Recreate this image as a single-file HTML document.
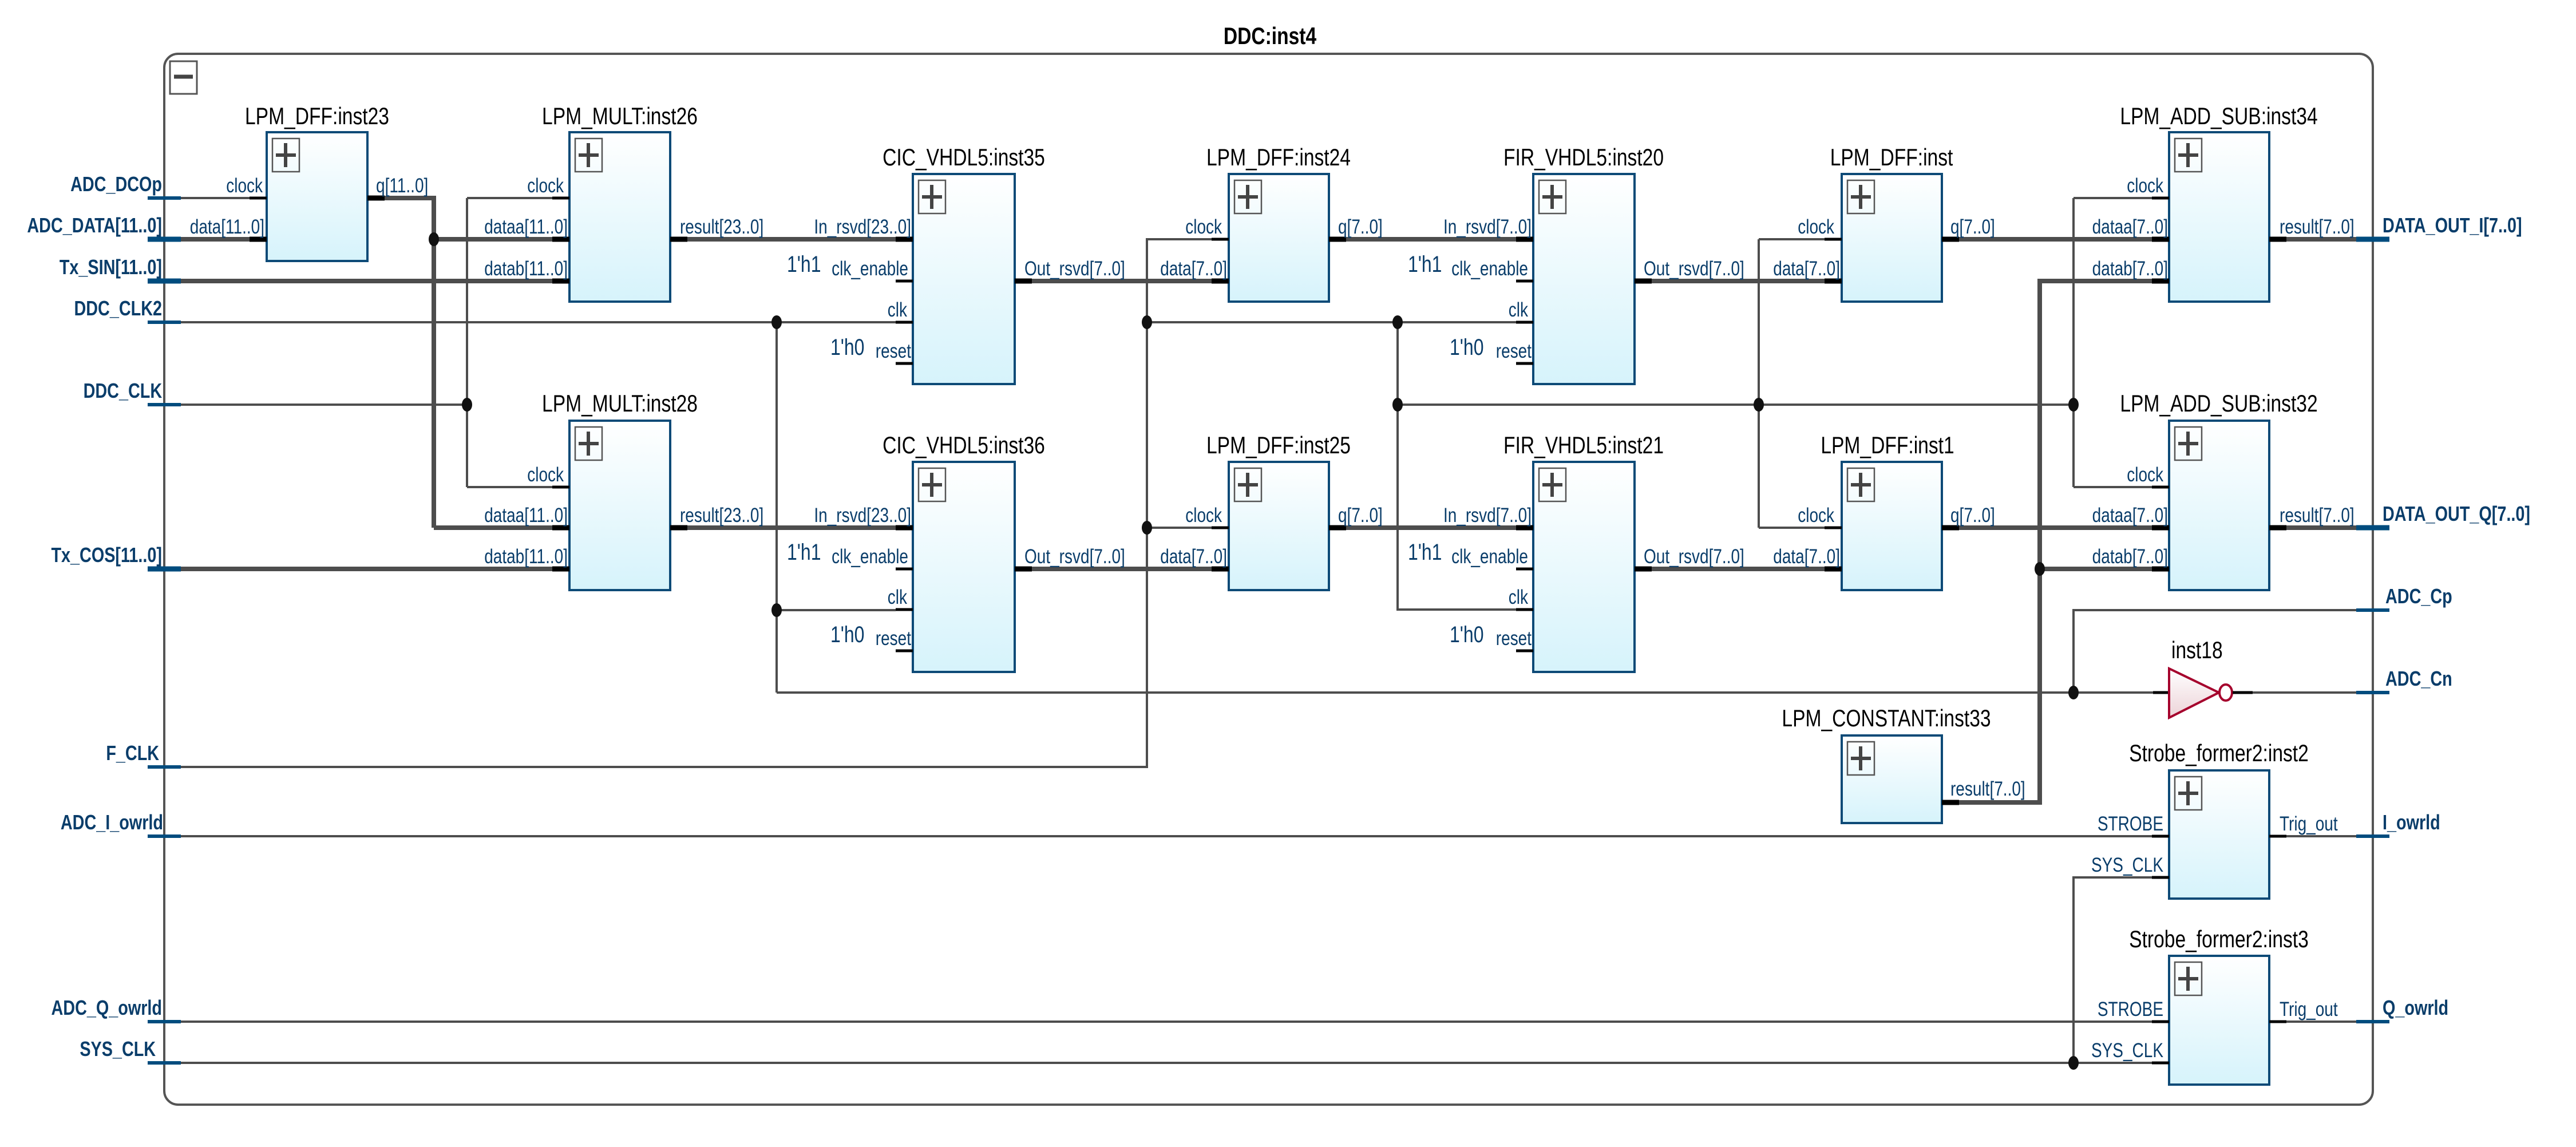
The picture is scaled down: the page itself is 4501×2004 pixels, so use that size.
<!DOCTYPE html>
<html><head><meta charset="utf-8"><style>
html,body{margin:0;padding:0;background:#fff}
svg{display:block}
text{font-family:"Liberation Sans",sans-serif;transform-box:fill-box}
.t{font-size:42px;fill:#000;text-anchor:middle;transform-origin:center;transform:scaleX(.8)}
.p{font-size:35px;fill:#0a3d6a;transform-origin:left;transform:scaleX(.8)}
.pe{font-size:35px;fill:#0a3d6a;text-anchor:end;transform-origin:right;transform:scaleX(.8)}
.c{font-size:40px;fill:#0a3d6a;transform-origin:left;transform:scaleX(.8)}
.L{font-size:36px;fill:#0a3d6a;font-weight:bold;text-anchor:end;transform-origin:right;transform:scaleX(.8)}
.R{font-size:36px;fill:#0a3d6a;font-weight:bold;transform-origin:left;transform:scaleX(.8)}
.w{stroke:#4d4d4d;stroke-width:4;fill:none}
.b{stroke:#4d4d4d;stroke-width:8;fill:none}
.k{stroke:#000;stroke-width:5}
.kb{stroke:#000;stroke-width:9}
.u{stroke:#004c7e;stroke-width:6}
.ub{stroke:#004c7e;stroke-width:9}
.box{fill:url(#g);stroke:#0d4a77;stroke-width:4}
.pl{fill:none;stroke:#555;stroke-width:2.5}
.px{stroke:#444;stroke-width:6}
</style></head><body>
<svg width="4501" height="2004" viewBox="0 0 4501 2004" xmlns="http://www.w3.org/2000/svg">
<defs><linearGradient id="g" x1="0" y1="0" x2="0" y2="1"><stop offset="0" stop-color="#ffffff"/><stop offset="1" stop-color="#d6f3fb"/></linearGradient>
<linearGradient id="gi" x1="0" y1="0" x2="0" y2="1"><stop offset="0" stop-color="#ffffff"/><stop offset="1" stop-color="#ecd3d8"/></linearGradient></defs>

<text x="2219" y="77" style="font-size:42px;font-weight:bold;text-anchor:middle;fill:#000;transform-origin:center;transform:scaleX(.8)">DDC:inst4</text>
<rect x="287" y="94" width="3859" height="1836" rx="24" fill="none" stroke="#555" stroke-width="4"/>
<rect x="297" y="107" width="47" height="57" fill="none" stroke="#555" stroke-width="3"/>
<line x1="304" y1="134" x2="337" y2="134" stroke="#444" stroke-width="7"/>

<g class="w">
<path d="M316 346H466"/>
<path d="M316 563H1565"/>
<path d="M316 707H816"/>
<path d="M816 346V851M816 346H965M816 851H965"/>
<path d="M1357 563V1210M1357 1066H1565M1357 1210H3762"/>
<path d="M316 1340H2004V418H2117M2004 563H2649M2004 922H2117"/>
<path d="M2442 563V1065H2649M2442 707H3623"/>
<path d="M3073 418V922M3073 418H3188M3073 922H3188"/>
<path d="M3623 346V851M3623 346H3760M3623 851H3760"/>
<path d="M4117 1066H3623V1210"/>
<path d="M3936 1210H4117"/>
<path d="M316 1461H3760"/>
<path d="M316 1785H3760"/>
<path d="M316 1857H3760M3623 1857V1533H3760"/>
<path d="M3995 1461H4117M3995 1785H4117"/>
</g>
<g class="b">
<path d="M316 418H436"/>
<path d="M672 346H758V922M758 418H965M758 922H965"/>
<path d="M316 491H965"/>
<path d="M316 994H965"/>
<path d="M1201 418H1565M1201 922H1565"/>
<path d="M1803 491H2117M1803 994H2117"/>
<path d="M2352 418H2649M2352 922H2649"/>
<path d="M2886 491H3188M2886 994H3188"/>
<path d="M3423 418H3760M3423 922H3760"/>
<path d="M3995 418H4117M3995 922H4117"/>
<path d="M3423 1402H3564V491H3760M3564 994H3760"/>
</g>
<g class="u"><path d="M258 346H316M258 563H316M258 707H316M258 1340H316M258 1461H316M258 1785H316M258 1857H316"/>
<path d="M4117 1066H4175M4117 1210H4175M4117 1461H4175M4117 1785H4175"/></g>
<g class="ub"><path d="M258 418H316M258 491H316M258 994H316M4117 418H4175M4117 922H4175"/></g>

<g fill="#111">
<ellipse cx="758" cy="418" rx="9" ry="12"/><ellipse cx="816" cy="707" rx="9" ry="12"/>
<ellipse cx="1357" cy="563" rx="9" ry="12"/><ellipse cx="1357" cy="1066" rx="9" ry="12"/>
<ellipse cx="2004" cy="563" rx="9" ry="12"/><ellipse cx="2004" cy="922" rx="9" ry="12"/>
<ellipse cx="2442" cy="563" rx="9" ry="12"/><ellipse cx="2442" cy="707" rx="9" ry="12"/>
<ellipse cx="3073" cy="707" rx="9" ry="12"/><ellipse cx="3623" cy="707" rx="9" ry="12"/>
<ellipse cx="3564" cy="994" rx="9" ry="12"/><ellipse cx="3623" cy="1210" rx="9" ry="12"/>
<ellipse cx="3623" cy="1857" rx="9" ry="12"/>
</g>

<text class="L" x="283" y="334">ADC_DCOp</text>
<text class="L" x="283" y="406">ADC_DATA[11..0]</text>
<text class="L" x="283" y="479">Tx_SIN[11..0]</text>
<text class="L" x="283" y="551">DDC_CLK2</text>
<text class="L" x="283" y="695">DDC_CLK</text>
<text class="L" x="283" y="982">Tx_COS[11..0]</text>
<text class="L" x="278" y="1328">F_CLK</text>
<text class="L" x="285" y="1449">ADC_I_owrld</text>
<text class="L" x="283" y="1773">ADC_Q_owrld</text>
<text class="L" x="272" y="1845">SYS_CLK</text>
<text class="R" x="4163" y="406">DATA_OUT_I[7..0]</text>
<text class="R" x="4163" y="910">DATA_OUT_Q[7..0]</text>
<text class="R" x="4168" y="1054">ADC_Cp</text>
<text class="R" x="4168" y="1198">ADC_Cn</text>
<text class="R" x="4163" y="1449">I_owrld</text>
<text class="R" x="4163" y="1773">Q_owrld</text>

<g>
<text class="t" x="554" y="217">LPM_DFF:inst23</text>
<rect class="box" x="466" y="231" width="176" height="225"/>
<line class="k" x1="436" y1="346" x2="466" y2="346"/><line class="kb" x1="436" y1="418" x2="466" y2="418"/><line class="kb" x1="642" y1="346" x2="672" y2="346"/>
<text class="pe" x="459" y="336">clock</text><text class="pe" x="462" y="408">data[11..0]</text><text class="p" x="657" y="336">q[11..0]</text>

<text class="t" x="1083" y="217">LPM_MULT:inst26</text>
<rect class="box" x="995" y="231" width="176" height="296"/>
<line class="k" x1="965" y1="346" x2="995" y2="346"/><line class="kb" x1="965" y1="418" x2="995" y2="418"/><line class="kb" x1="965" y1="491" x2="995" y2="491"/><line class="kb" x1="1171" y1="418" x2="1201" y2="418"/>
<text class="pe" x="985" y="336">clock</text><text class="pe" x="992" y="408">dataa[11..0]</text><text class="pe" x="992" y="481">datab[11..0]</text><text class="p" x="1188" y="408">result[23..0]</text>

<text class="t" x="1083" y="719">LPM_MULT:inst28</text>
<rect class="box" x="995" y="735" width="176" height="296"/>
<line class="k" x1="965" y1="851" x2="995" y2="851"/><line class="kb" x1="965" y1="922" x2="995" y2="922"/><line class="kb" x1="965" y1="994" x2="995" y2="994"/><line class="kb" x1="1171" y1="922" x2="1201" y2="922"/>
<text class="pe" x="985" y="841">clock</text><text class="pe" x="992" y="912">dataa[11..0]</text><text class="pe" x="992" y="984">datab[11..0]</text><text class="p" x="1188" y="912">result[23..0]</text>

<text class="t" x="1684" y="289">CIC_VHDL5:inst35</text>
<rect class="box" x="1595" y="304" width="178" height="367"/>
<line class="kb" x1="1565" y1="418" x2="1595" y2="418"/><line class="k" x1="1565" y1="491" x2="1595" y2="491"/><line class="k" x1="1565" y1="563" x2="1595" y2="563"/><line class="k" x1="1565" y1="635" x2="1595" y2="635"/><line class="kb" x1="1773" y1="491" x2="1803" y2="491"/>
<text class="pe" x="1592" y="408">In_rsvd[23..0]</text><text class="pe" x="1587" y="481">clk_enable</text><text class="pe" x="1585" y="553">clk</text><text class="pe" x="1592" y="625">reset</text>
<text class="c" x="1375" y="475">1'h1</text><text class="c" x="1451" y="620">1'h0</text>
<text class="p" x="1790" y="481">Out_rsvd[7..0]</text>

<text class="t" x="1684" y="792">CIC_VHDL5:inst36</text>
<rect class="box" x="1595" y="807" width="178" height="367"/>
<line class="kb" x1="1565" y1="922" x2="1595" y2="922"/><line class="k" x1="1565" y1="994" x2="1595" y2="994"/><line class="k" x1="1565" y1="1065" x2="1595" y2="1065"/><line class="k" x1="1565" y1="1137" x2="1595" y2="1137"/><line class="kb" x1="1773" y1="994" x2="1803" y2="994"/>
<text class="pe" x="1592" y="912">In_rsvd[23..0]</text><text class="pe" x="1587" y="984">clk_enable</text><text class="pe" x="1585" y="1055">clk</text><text class="pe" x="1592" y="1127">reset</text>
<text class="c" x="1375" y="978">1'h1</text><text class="c" x="1451" y="1122">1'h0</text>
<text class="p" x="1790" y="984">Out_rsvd[7..0]</text>

<text class="t" x="2234" y="289">LPM_DFF:inst24</text>
<rect class="box" x="2147" y="304" width="175" height="223"/>
<line class="k" x1="2117" y1="418" x2="2147" y2="418"/><line class="kb" x1="2117" y1="491" x2="2147" y2="491"/><line class="kb" x1="2322" y1="418" x2="2352" y2="418"/>
<text class="pe" x="2135" y="408">clock</text><text class="pe" x="2144" y="481">data[7..0]</text><text class="p" x="2338" y="408">q[7..0]</text>

<text class="t" x="2234" y="792">LPM_DFF:inst25</text>
<rect class="box" x="2147" y="807" width="175" height="224"/>
<line class="k" x1="2117" y1="922" x2="2147" y2="922"/><line class="kb" x1="2117" y1="994" x2="2147" y2="994"/><line class="kb" x1="2322" y1="922" x2="2352" y2="922"/>
<text class="pe" x="2135" y="912">clock</text><text class="pe" x="2144" y="984">data[7..0]</text><text class="p" x="2338" y="912">q[7..0]</text>

<text class="t" x="2767" y="289">FIR_VHDL5:inst20</text>
<rect class="box" x="2679" y="304" width="177" height="367"/>
<line class="kb" x1="2649" y1="418" x2="2679" y2="418"/><line class="k" x1="2649" y1="491" x2="2679" y2="491"/><line class="k" x1="2649" y1="563" x2="2679" y2="563"/><line class="k" x1="2649" y1="635" x2="2679" y2="635"/><line class="kb" x1="2856" y1="491" x2="2886" y2="491"/>
<text class="pe" x="2676" y="408">In_rsvd[7..0]</text><text class="pe" x="2670" y="481">clk_enable</text><text class="pe" x="2670" y="553">clk</text><text class="pe" x="2676" y="625">reset</text>
<text class="c" x="2460" y="475">1'h1</text><text class="c" x="2533" y="620">1'h0</text>
<text class="p" x="2872" y="481">Out_rsvd[7..0]</text>

<text class="t" x="2767" y="792">FIR_VHDL5:inst21</text>
<rect class="box" x="2679" y="807" width="177" height="367"/>
<line class="kb" x1="2649" y1="922" x2="2679" y2="922"/><line class="k" x1="2649" y1="994" x2="2679" y2="994"/><line class="k" x1="2649" y1="1065" x2="2679" y2="1065"/><line class="k" x1="2649" y1="1137" x2="2679" y2="1137"/><line class="kb" x1="2856" y1="994" x2="2886" y2="994"/>
<text class="pe" x="2676" y="912">In_rsvd[7..0]</text><text class="pe" x="2670" y="984">clk_enable</text><text class="pe" x="2670" y="1055">clk</text><text class="pe" x="2676" y="1127">reset</text>
<text class="c" x="2460" y="978">1'h1</text><text class="c" x="2533" y="1122">1'h0</text>
<text class="p" x="2872" y="984">Out_rsvd[7..0]</text>

<text class="t" x="3305" y="289">LPM_DFF:inst</text>
<rect class="box" x="3218" y="304" width="175" height="223"/>
<line class="k" x1="3188" y1="418" x2="3218" y2="418"/><line class="kb" x1="3188" y1="491" x2="3218" y2="491"/><line class="kb" x1="3393" y1="418" x2="3423" y2="418"/>
<text class="pe" x="3205" y="408">clock</text><text class="pe" x="3215" y="481">data[7..0]</text><text class="p" x="3408" y="408">q[7..0]</text>

<text class="t" x="3298" y="792">LPM_DFF:inst1</text>
<rect class="box" x="3218" y="807" width="175" height="224"/>
<line class="k" x1="3188" y1="922" x2="3218" y2="922"/><line class="kb" x1="3188" y1="994" x2="3218" y2="994"/><line class="kb" x1="3393" y1="922" x2="3423" y2="922"/>
<text class="pe" x="3205" y="912">clock</text><text class="pe" x="3215" y="984">data[7..0]</text><text class="p" x="3408" y="912">q[7..0]</text>

<text class="t" x="3877" y="217">LPM_ADD_SUB:inst34</text>
<rect class="box" x="3790" y="231" width="175" height="296"/>
<line class="k" x1="3760" y1="346" x2="3790" y2="346"/><line class="kb" x1="3760" y1="418" x2="3790" y2="418"/><line class="kb" x1="3760" y1="491" x2="3790" y2="491"/><line class="kb" x1="3965" y1="418" x2="3995" y2="418"/>
<text class="pe" x="3780" y="336">clock</text><text class="pe" x="3788" y="408">dataa[7..0]</text><text class="pe" x="3788" y="481">datab[7..0]</text><text class="p" x="3983" y="408">result[7..0]</text>

<text class="t" x="3877" y="719">LPM_ADD_SUB:inst32</text>
<rect class="box" x="3790" y="735" width="175" height="296"/>
<line class="k" x1="3760" y1="851" x2="3790" y2="851"/><line class="kb" x1="3760" y1="922" x2="3790" y2="922"/><line class="kb" x1="3760" y1="994" x2="3790" y2="994"/><line class="kb" x1="3965" y1="922" x2="3995" y2="922"/>
<text class="pe" x="3780" y="841">clock</text><text class="pe" x="3788" y="912">dataa[7..0]</text><text class="pe" x="3788" y="984">datab[7..0]</text><text class="p" x="3983" y="912">result[7..0]</text>

<text class="t" x="3296" y="1269">LPM_CONSTANT:inst33</text>
<rect class="box" x="3218" y="1285" width="175" height="153"/>
<line class="kb" x1="3393" y1="1402" x2="3423" y2="1402"/>
<text class="p" x="3408" y="1390">result[7..0]</text>

<text class="t" x="3877" y="1330">Strobe_former2:inst2</text>
<rect class="box" x="3790" y="1346" width="175" height="224"/>
<line class="k" x1="3760" y1="1461" x2="3790" y2="1461"/><line class="k" x1="3760" y1="1533" x2="3790" y2="1533"/><line class="k" x1="3965" y1="1461" x2="3995" y2="1461"/>
<text class="pe" x="3780" y="1451">STROBE</text><text class="pe" x="3780" y="1523">SYS_CLK</text><text class="p" x="3983" y="1451">Trig_out</text>

<text class="t" x="3877" y="1655">Strobe_former2:inst3</text>
<rect class="box" x="3790" y="1670" width="175" height="225"/>
<line class="k" x1="3760" y1="1785" x2="3790" y2="1785"/><line class="k" x1="3760" y1="1857" x2="3790" y2="1857"/><line class="k" x1="3965" y1="1785" x2="3995" y2="1785"/>
<text class="pe" x="3780" y="1775">STROBE</text><text class="pe" x="3780" y="1847">SYS_CLK</text><text class="p" x="3983" y="1775">Trig_out</text>
</g>

<g>
<rect class="pl" x="476" y="242" width="47" height="58"/><path class="px" d="M499 250V292M482 271H517"/>
<rect class="pl" x="1005" y="242" width="47" height="58"/><path class="px" d="M1028 250V292M1011 271H1046"/>
<rect class="pl" x="1005" y="746" width="47" height="58"/><path class="px" d="M1028 754V796M1011 775H1046"/>
<rect class="pl" x="1605" y="315" width="47" height="58"/><path class="px" d="M1628 323V365M1611 344H1646"/>
<rect class="pl" x="1605" y="818" width="47" height="58"/><path class="px" d="M1628 826V868M1611 847H1646"/>
<rect class="pl" x="2157" y="315" width="47" height="58"/><path class="px" d="M2180 323V365M2163 344H2198"/>
<rect class="pl" x="2157" y="818" width="47" height="58"/><path class="px" d="M2180 826V868M2163 847H2198"/>
<rect class="pl" x="2689" y="315" width="47" height="58"/><path class="px" d="M2712 323V365M2695 344H2730"/>
<rect class="pl" x="2689" y="818" width="47" height="58"/><path class="px" d="M2712 826V868M2695 847H2730"/>
<rect class="pl" x="3228" y="315" width="47" height="58"/><path class="px" d="M3251 323V365M3234 344H3269"/>
<rect class="pl" x="3228" y="818" width="47" height="58"/><path class="px" d="M3251 826V868M3234 847H3269"/>
<rect class="pl" x="3800" y="242" width="47" height="58"/><path class="px" d="M3823 250V292M3806 271H3841"/>
<rect class="pl" x="3800" y="746" width="47" height="58"/><path class="px" d="M3823 754V796M3806 775H3841"/>
<rect class="pl" x="3228" y="1296" width="47" height="58"/><path class="px" d="M3251 1304V1346M3234 1325H3269"/>
<rect class="pl" x="3800" y="1357" width="47" height="58"/><path class="px" d="M3823 1365V1407M3806 1386H3841"/>
<rect class="pl" x="3800" y="1681" width="47" height="58"/><path class="px" d="M3823 1689V1731M3806 1710H3841"/>
</g>

<text x="3794" y="1150" style="font-size:42px;fill:#000;transform-origin:left;transform:scaleX(.8)">inst18</text>
<line class="k" x1="3762" y1="1210" x2="3790" y2="1210"/>
<polygon points="3790,1168 3790,1254 3877,1210" fill="url(#gi)" stroke="#a5002c" stroke-width="4"/>
<ellipse cx="3889" cy="1210" rx="11" ry="14" fill="#fff" stroke="#a5002c" stroke-width="4"/>
<line class="k" x1="3901" y1="1210" x2="3936" y2="1210"/>
</svg>
</body></html>
